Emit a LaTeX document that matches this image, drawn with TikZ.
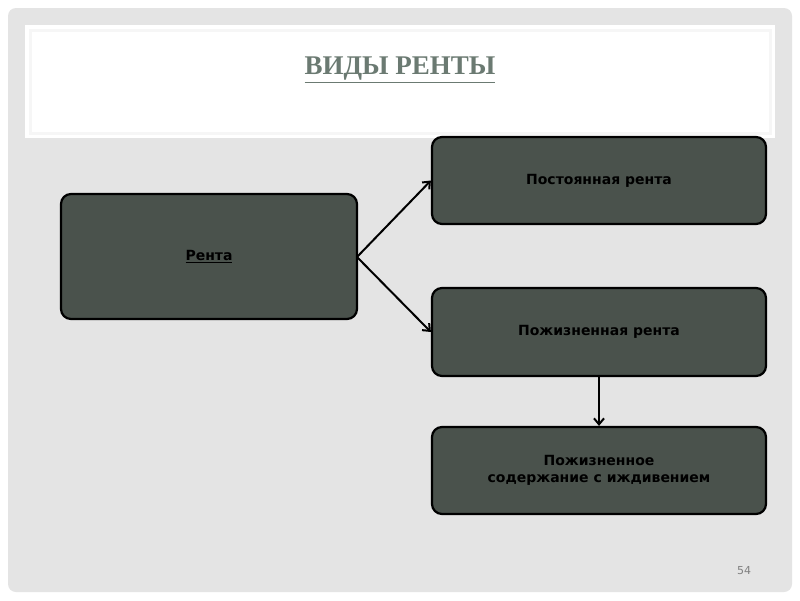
\documentclass[tikz,border=0pt]{standalone}
\usepackage{fontspec}
\setmainfont{DejaVu Sans}
\newfontfamily\titlefont{Liberation Serif}
\usetikzlibrary{arrows.meta}
\definecolor{bg}{HTML}{E4E4E4}
\definecolor{boxfill}{HTML}{4A524C}
\definecolor{titlecol}{HTML}{6B7A72}
\tikzset{
  box/.style={draw=black, line width=2.2pt, fill=boxfill, rounded corners=10pt, font=\fontsize{14}{17}\selectfont\bfseries, text=black, align=center},
  conn/.style={draw=black, line width=2pt, -{Straight Barb[length=6pt,width=10pt]}}
}
\begin{document}
\begin{tikzpicture}[x=1pt,y=-1pt]
\useasboundingbox (0,0) rectangle (800,600);
\fill[white] (0,0) rectangle (800,600);
\fill[bg, rounded corners=8pt] (8,8) rectangle (792,592);
\fill[white] (25,25) rectangle (775,138);
\draw[white!93!gray, line width=3pt] (30,30) rectangle (770,133);
\node[text=titlecol, font=\titlefont\fontsize{27}{30}\selectfont\bfseries] (title) at (400,70) {$\underline{\hbox{ВИДЫ РЕНТЫ}}$};
\node[box, minimum width=296pt, minimum height=125pt] (r) at (209,256.5) {$\underline{\hbox{Рента}}$};
\node[box, minimum width=334pt, minimum height=87pt] (p) at (599,180.5) {Постоянная рента};
\node[box, minimum width=334pt, minimum height=88pt] (z) at (599,332) {Пожизненная рента};
\node[box, minimum width=334pt, minimum height=87pt] (s) at (599,470.5) {Пожизненное\\содержание с иждивением};
\coordinate (o) at (357,257);
\draw[conn] (o) -- (p.west);
\draw[conn] (o) -- (z.west);
\draw[conn] (z.south) -- (s.north);
\node[text=gray, font=\fontsize{11}{13}\selectfont] (n) at (744,571) {54};
\end{tikzpicture}
\end{document}
